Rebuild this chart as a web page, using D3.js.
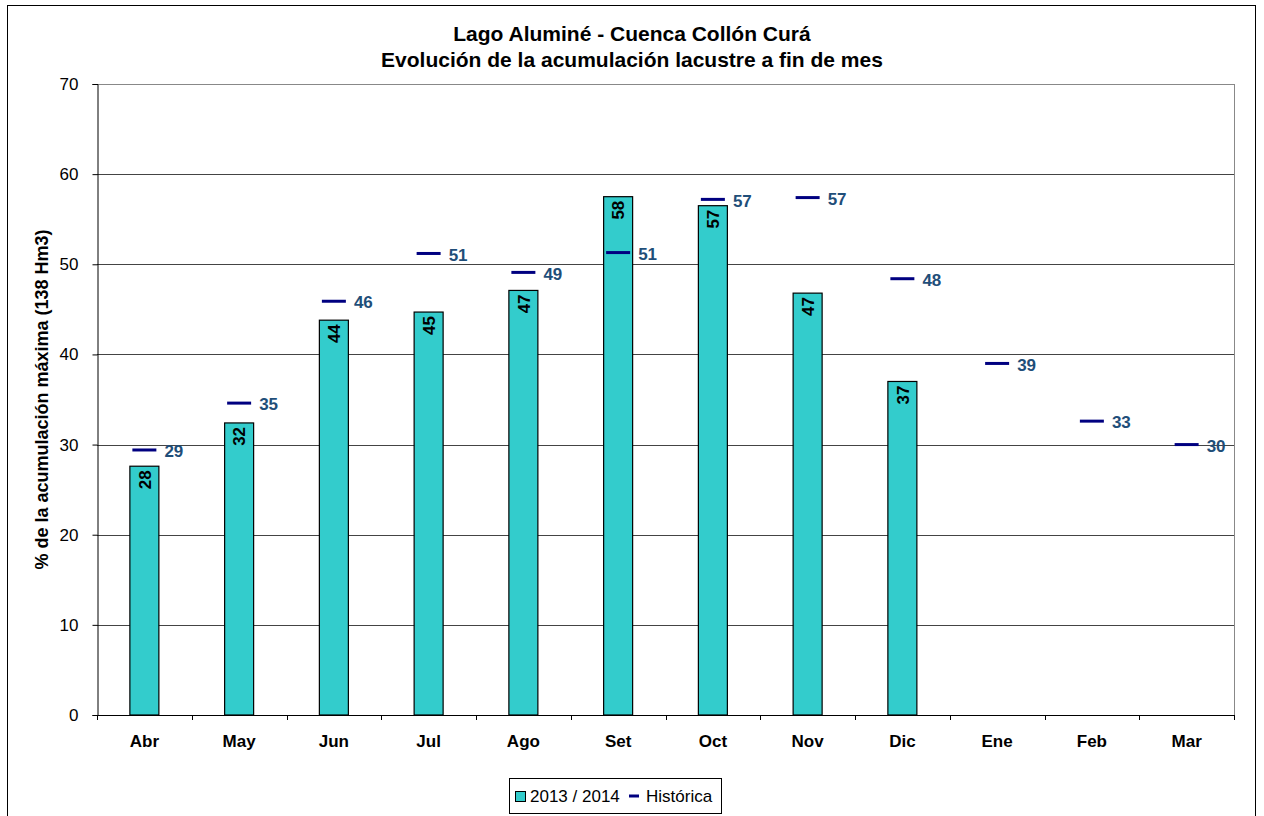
<!DOCTYPE html>
<html><head><meta charset="utf-8">
<script src="https://cdn.jsdelivr.net/npm/d3@7"></script>
<style>body{margin:0;background:#fff}svg{display:block;font-family:"Liberation Sans",Arial,sans-serif}</style>
</head><body>
<script>
const categories = ["Abr","May","Jun","Jul","Ago","Set","Oct","Nov","Dic","Ene","Feb","Mar"];
const actual = [27.6,32.4,43.8,44.7,47.1,57.5,56.5,46.8,37.0,null,null,null];
const historica = [29.4,34.6,45.9,51.2,49.1,51.3,57.2,57.4,48.4,39.0,32.6,30.0];
const yTicks = [0,10,20,30,40,50,60,70];
const titleLines = ["Lago Aluminé - Cuenca Collón Curá","Evolución de la acumulación lacustre a fin de mes"];
const yTitle = "% de la acumulación máxima (138 Hm3)";
const legendLabels = ["2013 / 2014","Histórica"];

const FF = "'Liberation Sans',Arial,sans-serif";
const W=1264,H=816;
const svg=d3.select("body").append("svg").attr("width",W).attr("height",H);
svg.append("rect").attr("x",7.5).attr("y",5.5).attr("width",1248).attr("height",820).attr("fill","#fff").attr("stroke","#000");

const L=97,R=1234,T=84,B=715;
const x=d3.scaleBand().domain(categories).range([L,R]).paddingInner(0).paddingOuter(0);
const y=d3.scaleLinear().domain([0,70]).range([B,T]);

// gridlines
svg.append("g").selectAll("line").data(yTicks.filter(d=>d>0)).join("line")
  .attr("x1",L).attr("x2",R).attr("y1",d=>Math.round(y(d))+0.5).attr("y2",d=>Math.round(y(d))+0.5)
  .attr("stroke",d=>d===70?"#888":"#444").attr("stroke-width",1);
// right border of plot
svg.append("line").attr("x1",R+0.5).attr("x2",R+0.5).attr("y1",T).attr("y2",B).attr("stroke","#888");

// bars
const bw=29;
const barData = categories.map((c,i)=>({c,v:actual[i]})).filter(d=>d.v!=null);
svg.append("g").selectAll("rect").data(barData).join("rect")
  .attr("x",d=>x(d.c)+x.bandwidth()/2-bw/2).attr("width",bw)
  .attr("y",d=>y(d.v)).attr("height",d=>y(0)-y(d.v))
  .attr("fill","#33CCCC").attr("stroke","#000").attr("stroke-width",1.2);

// bar labels (rotated, reading bottom to top)
svg.append("g").selectAll("text").data(barData).join("text")
  .attr("transform",d=>`translate(${x(d.c)+x.bandwidth()/2},${y(d.v)+4}) rotate(-90)`)
  .attr("dy","0.36em").attr("text-anchor","end")
  .attr("font-size",17).attr("font-weight","bold").attr("fill","#000").attr("font-family",FF)
  .text(d=>Math.round(d.v));

// historic markers
const hd=categories.map((c,i)=>({c,v:historica[i]}));
svg.append("g").selectAll("line").data(hd).join("line")
  .attr("x1",d=>x(d.c)+x.bandwidth()/2-12).attr("x2",d=>x(d.c)+x.bandwidth()/2+12)
  .attr("y1",d=>y(d.v)).attr("y2",d=>y(d.v))
  .attr("stroke","#000080").attr("stroke-width",3);
svg.append("g").selectAll("text").data(hd).join("text")
  .attr("x",d=>x(d.c)+x.bandwidth()/2+20).attr("y",d=>y(d.v)+1).attr("dy","0.36em")
  .attr("font-size",17).attr("font-weight","bold").attr("fill","#1F4E79").attr("font-family",FF)
  .text(d=>Math.round(d.v));

// axes
const yAxis=svg.append("g").attr("transform",`translate(${L+0.5},0)`)
  .call(d3.axisLeft(y).tickValues(yTicks).tickSize(5).tickPadding(14));
yAxis.select(".domain").attr("stroke","#000");
yAxis.selectAll("text").attr("font-size",17).attr("font-family",FF).attr("fill","#000");

const xAxis=svg.append("g").attr("transform",`translate(0,${B+0.5})`)
  .call(d3.axisBottom(x).tickSize(0).tickPadding(19));
xAxis.select(".domain").attr("stroke","#000").attr("d",`M${L},0H${R}`);
xAxis.selectAll("text").attr("font-size",17).attr("font-weight","bold").attr("font-family",FF).attr("fill","#000");
svg.append("g").selectAll("line").data(d3.range(categories.length+1)).join("line")
  .attr("x1",i=>Math.round(L+i*x.bandwidth())+0.5).attr("x2",i=>Math.round(L+i*x.bandwidth())+0.5)
  .attr("y1",B).attr("y2",B+5).attr("stroke","#000");

// title
svg.append("g").selectAll("text").data(titleLines).join("text")
  .attr("x",632).attr("y",(d,i)=>41+i*26).attr("text-anchor","middle")
  .attr("font-size",21).attr("font-weight","bold").attr("font-family",FF).text(d=>d);

// y title
svg.append("text").attr("transform",`translate(48,${(T+B)/2}) rotate(-90)`)
  .attr("text-anchor","middle").attr("font-size",18).attr("font-weight","bold").attr("font-family",FF).text(yTitle);

// legend
const lg=svg.append("g");
lg.append("rect").attr("x",509.5).attr("y",778.5).attr("width",212).attr("height",35).attr("fill","#fff").attr("stroke","#000");
lg.append("rect").attr("x",515.5).attr("y",791.5).attr("width",10).attr("height",10).attr("fill","#33CCCC").attr("stroke","#000");
lg.append("text").attr("x",530).attr("y",796).attr("dy","0.36em").attr("font-size",17).attr("font-family",FF).text(legendLabels[0]);
lg.append("line").attr("x1",629).attr("x2",639).attr("y1",796).attr("y2",796).attr("stroke","#000080").attr("stroke-width",3);
lg.append("text").attr("x",646).attr("y",796).attr("dy","0.36em").attr("font-size",17).attr("font-family",FF).text(legendLabels[1]);
</script>
</body></html>
